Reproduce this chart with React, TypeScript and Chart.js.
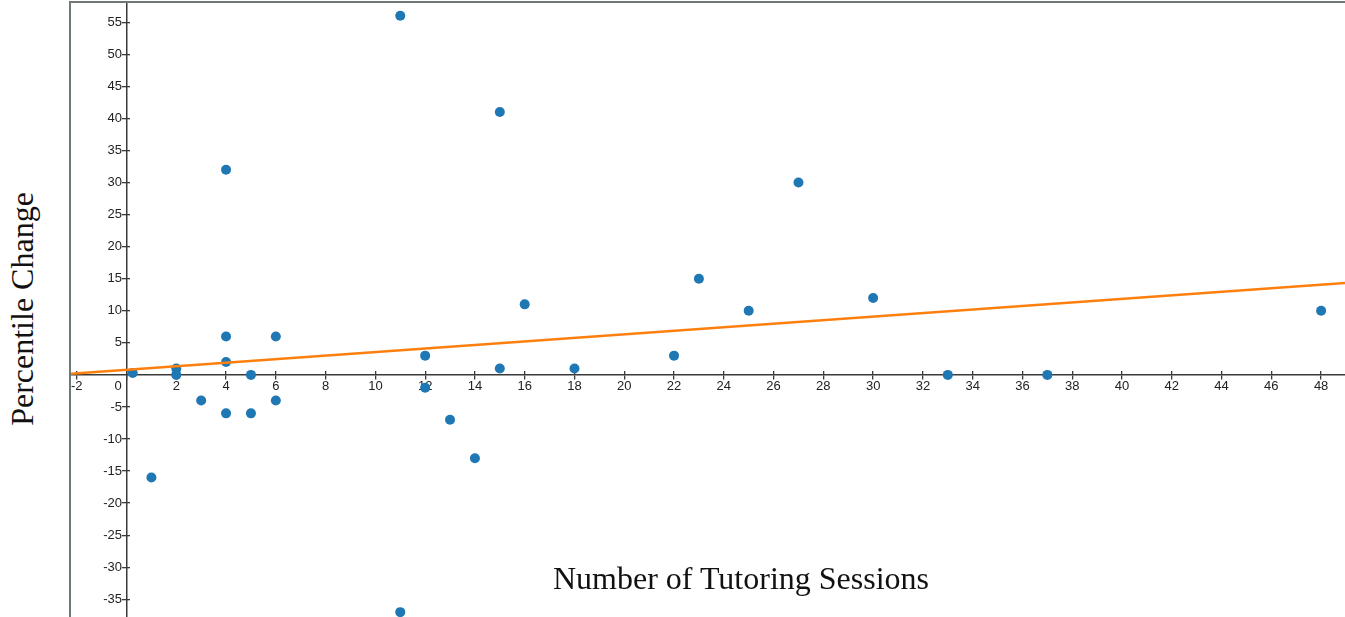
import React, { useEffect, useRef } from "react";
import { Chart, registerables } from "chart.js";

Chart.register(...registerables);

// Data
const sessions = [0.25, 1, 2, 2, 3, 4, 4, 4, 4, 5, 5, 6, 6, 11, 11, 12, 12, 13, 14, 15, 15, 16, 18, 22, 23, 25, 27, 30, 33, 37, 48];
const changes = [0.3, -16, 1, 0, -4, 32, 6, 2, -6, 0, -6, 6, -4, 56, -37, 3, -2, -7, -13, 41, 1, 11, 1, 3, 15, 10, 30, 12, 0, 0, 10];

// Trend line end points
const trendX = [-2.23, 48.96];
const trendY = [0.19, 14.32];

// Tick labels
const xTicks = [-2, 0, 2, 4, 6, 8, 10, 12, 14, 16, 18, 20, 22, 24, 26, 28, 30, 32, 34, 36, 38, 40, 42, 44, 46, 48];
const yTicks = [-35, -30, -25, -20, -15, -10, -5, 5, 10, 15, 20, 25, 30, 35, 40, 45, 50, 55];

// Axis ranges
const xRange = [-2.23, 48.96];
const yRange = [-37.76, 58.0];

const xTitle = "Number of Tutoring Sessions";
const yTitle = "Percentile Change";

const AXIS_COLOR = "#3a3a3a";
const LABEL_FONT = { family: "'Liberation Sans', Arial, sans-serif", size: 13 };

const zeroFit = (horizontal: boolean) => (s: any) => {
  if (horizontal) s.height = 0;
  else s.width = 0;
  s.paddingLeft = 0;
  s.paddingRight = 0;
  s.paddingTop = 0;
  s.paddingBottom = 0;
};

// shifts y labels off the axis line and nudges the x "0" label left, as in the reference
const labelShiftPlugin = {
  id: "labelShift",
  beforeDraw(chart: any) {
    const yi = chart.scales.y.getLabelItems(chart.chartArea);
    if (!yi._shifted) {
      yi.forEach((it: any) => {
        it.options.translation[0] -= 4.5;
      });
      yi._shifted = true;
    }
    const xi = chart.scales.x.getLabelItems(chart.chartArea);
    if (!xi._shifted) {
      xi.forEach((it: any) => {
        if (it.label === "0") it.options.translation[0] -= 8.5;
      });
      xi._shifted = true;
    }
  },
};

export default function App() {
  const canvasRef = useRef<HTMLCanvasElement | null>(null);

  useEffect(() => {
    const canvas = canvasRef.current;
    if (!canvas) return;
    const tickGrid = (len: number) => ({
      drawOnChartArea: false,
      drawTicks: true,
      tickLength: len,
      color: AXIS_COLOR,
      lineWidth: 1.3,
    });
    const chart = new Chart(canvas, {
      type: "scatter",
      data: {
        datasets: [
          {
            type: "line",
            data: trendX.map((x, i) => ({ x, y: trendY[i] })),
            borderColor: "#ff7f0e",
            borderWidth: 2.5,
            pointRadius: 0,
            fill: false,
            order: 0,
          } as any,
          {
            data: sessions.map((x, i) => ({ x, y: changes[i] })),
            backgroundColor: "#1f77b4",
            borderWidth: 0,
            pointRadius: 5,
            order: 1,
          },
        ],
      },
      options: {
        animation: false,
        responsive: false,
        maintainAspectRatio: false,
        layout: { padding: 0, autoPadding: false },
        plugins: { legend: { display: false }, tooltip: { enabled: false } },
        scales: {
          x: {
            type: "linear",
            min: xRange[0],
            max: xRange[1],
            position: { y: 0 } as any,
            afterFit: zeroFit(true),
            afterBuildTicks: (s: any) => {
              s.ticks = xTicks.map((v) => ({ value: v }));
            },
            grid: tickGrid(4),
            border: { display: true, color: AXIS_COLOR, width: 1.5 },
            ticks: {
              padding: 0,
              color: "#222",
              font: LABEL_FONT,
              autoSkip: false,
              maxRotation: 0,
              callback: (v: any) => String(v),
            },
          },
          x2: {
            type: "linear",
            axis: "x",
            min: xRange[0],
            max: xRange[1],
            position: { y: 0 } as any,
            afterFit: zeroFit(true),
            afterBuildTicks: (s: any) => {
              s.ticks = xTicks.map((v) => ({ value: v }));
            },
            grid: tickGrid(-4),
            border: { display: false },
            ticks: { display: false, autoSkip: false },
          } as any,
          y: {
            type: "linear",
            min: yRange[0],
            max: yRange[1],
            position: { x: 0 } as any,
            afterFit: zeroFit(false),
            afterBuildTicks: (s: any) => {
              s.ticks = yTicks.map((v) => ({ value: v }));
            },
            grid: tickGrid(4),
            border: { display: true, color: AXIS_COLOR, width: 1.5 },
            ticks: {
              padding: 0,
              color: "#222",
              font: LABEL_FONT,
              autoSkip: false,
              callback: (v: any) => String(v),
            },
          },
          y2: {
            type: "linear",
            axis: "y",
            min: yRange[0],
            max: yRange[1],
            position: { x: 0 } as any,
            afterFit: zeroFit(false),
            afterBuildTicks: (s: any) => {
              s.ticks = yTicks.map((v) => ({ value: v }));
            },
            grid: tickGrid(-4),
            border: { display: false },
            ticks: { display: false, autoSkip: false },
          } as any,
        },
      },
      plugins: [labelShiftPlugin],
    });
    return () => chart.destroy();
  }, []);

  return (
    <div style={{ position: "fixed", left: 0, top: 0, width: 1345, height: 617, overflow: "hidden", background: "#fff" }}>
      <div
        style={{
          position: "absolute",
          left: 69,
          top: 1,
          width: 1400,
          height: 700,
          borderLeft: "2px solid #6e7878",
          borderTop: "2px solid #6e7878",
        }}
      />
      <canvas
        ref={canvasRef}
        width={1274}
        height={614}
        style={{ position: "absolute", left: 71, top: 3, width: 1274, height: 614 }}
      />
      <div
        style={{
          position: "absolute",
          left: 553,
          top: 562,
          whiteSpace: "nowrap",
          fontFamily: "'Liberation Serif', 'Times New Roman', serif",
          fontSize: 32,
          lineHeight: "32px",
          color: "#111",
        }}
      >
        {xTitle}
      </div>
      <div
        style={{
          position: "absolute",
          left: -127.8,
          top: 293,
          width: 300,
          height: 32,
          textAlign: "center",
          whiteSpace: "nowrap",
          fontFamily: "'Liberation Serif', 'Times New Roman', serif",
          fontSize: 32,
          lineHeight: "32px",
          color: "#111",
          transform: "rotate(-90deg)",
          transformOrigin: "50% 50%",
        }}
      >
        {yTitle}
      </div>
    </div>
  );
}
